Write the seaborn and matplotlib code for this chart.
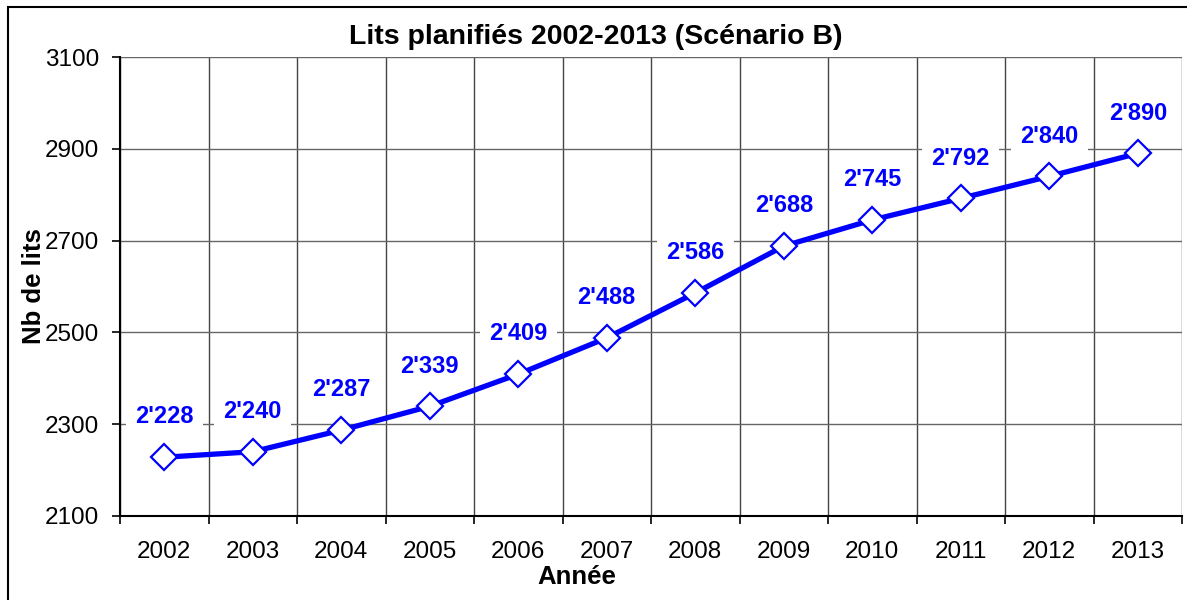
import matplotlib
matplotlib.use('Agg')
import matplotlib.pyplot as plt
import seaborn as sns
import pandas as pd
from matplotlib.patches import Rectangle
from matplotlib.ticker import FixedLocator

# Data
years = ["2002", "2003", "2004", "2005", "2006", "2007",
         "2008", "2009", "2010", "2011", "2012", "2013"]
beds = [2228, 2240, 2287, 2339, 2409, 2488, 2586, 2688, 2745, 2792, 2840, 2890]
bed_labels = ["2'228", "2'240", "2'287", "2'339", "2'409", "2'488",
              "2'586", "2'688", "2'745", "2'792", "2'840", "2'890"]

df = pd.DataFrame({"pos": range(len(years)), "year": years, "beds": beds})

sns.set_style("white")
plt.rcParams['font.family'] = ['Liberation Sans', 'DejaVu Sans']
plt.rcParams['text.color'] = 'black'
plt.rcParams['axes.labelcolor'] = 'black'
plt.rcParams['xtick.color'] = 'black'
plt.rcParams['ytick.color'] = 'black'

blue = '#0000FF'

fig = plt.figure(figsize=(11.87, 6.0), dpi=100)
ax = fig.add_axes([120 / 1187, 1 - 516 / 600, 1062 / 1187, 459 / 600])

sns.lineplot(data=df, x="pos", y="beds", ax=ax, color=blue, linewidth=3.8,
             marker='D', markersize=13, markerfacecolor='white',
             markeredgecolor=blue, markeredgewidth=1.6, zorder=3)

# data labels with white boxes
for i, (v, lab) in enumerate(zip(beds, bed_labels)):
    ax.annotate(lab, xy=(i, v), xytext=(0, 29), textcoords='offset points',
                ha='center', va='center', fontsize=17, fontweight='bold',
                color=blue, zorder=2.5,
                bbox=dict(boxstyle='square,pad=0.4', fc='white', ec='none'))

ax.set_xlim(-0.5, len(years) - 0.5)
ax.set_ylim(2100, 3100)
ax.set_yticks([2100, 2300, 2500, 2700, 2900, 3100])
ax.set_xticks(range(len(years)))
ax.set_xticklabels(years)
ax.xaxis.set_minor_locator(FixedLocator([i - 0.5 for i in range(len(years) + 1)]))

ax.tick_params(axis='x', which='major', length=0, pad=18, labelsize=17.5)
ax.tick_params(axis='x', which='minor', length=6, width=1.2, color='black',
               direction='out', bottom=True)
ax.tick_params(axis='y', which='major', length=6, width=1.2, color='black',
               direction='out', left=True, pad=9, labelsize=17.5)

ax.grid(True, which='major', axis='y', color='#666666', linewidth=1.0, zorder=0)
ax.grid(True, which='minor', axis='x', color='#444444', linewidth=1.0, zorder=0)
ax.grid(False, which='major', axis='x')
ax.set_axisbelow(True)

for side in ['top', 'right']:
    ax.spines[side].set_visible(False)
for side in ['left', 'bottom']:
    ax.spines[side].set_color('black')
    ax.spines[side].set_linewidth(1.5)

fig.text(596 / 1187, 1 - 37 / 600, "Lits planifiés 2002-2013 (Scénario B)",
         fontsize=20.5, fontweight='bold', ha='center', va='center')
ax.set_xlabel("Année", fontsize=18.5, fontweight='bold', va='center')
ax.xaxis.set_label_coords((577 - 120) / 1062, -(577 - 516) / 459)
ax.set_ylabel("Nb de lits", fontsize=18.5, fontweight='bold', labelpad=-1)

# outer chart border
fig.patches.append(Rectangle((8 / 1187, -0.05), 1.2, 1 - 7 / 600 + 0.05,
                             transform=fig.transFigure, fill=False,
                             edgecolor='black', linewidth=1.5))

fig.savefig("out.png", dpi=100)
